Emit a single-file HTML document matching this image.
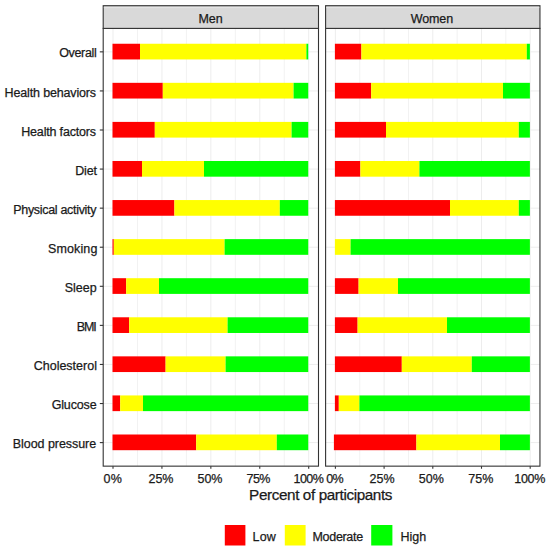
<!DOCTYPE html><html><head><meta charset="utf-8"><style>html,body{margin:0;padding:0;background:#fff;width:550px;height:550px;overflow:hidden}svg{display:block}text{font-family:"Liberation Sans",sans-serif}</style></head><body>
<svg width="550" height="550" viewBox="0 0 550 550">
<rect x="0" y="0" width="550" height="550" fill="#fff"/>
<line x1="113.00" y1="28.4" x2="113.00" y2="466.15" stroke="#EDEDED" stroke-width="1"/>
<line x1="137.46" y1="28.4" x2="137.46" y2="466.15" stroke="#F2F2F2" stroke-width="1"/>
<line x1="161.93" y1="28.4" x2="161.93" y2="466.15" stroke="#EDEDED" stroke-width="1"/>
<line x1="186.39" y1="28.4" x2="186.39" y2="466.15" stroke="#F2F2F2" stroke-width="1"/>
<line x1="210.85" y1="28.4" x2="210.85" y2="466.15" stroke="#EDEDED" stroke-width="1"/>
<line x1="235.31" y1="28.4" x2="235.31" y2="466.15" stroke="#F2F2F2" stroke-width="1"/>
<line x1="259.77" y1="28.4" x2="259.77" y2="466.15" stroke="#EDEDED" stroke-width="1"/>
<line x1="284.24" y1="28.4" x2="284.24" y2="466.15" stroke="#F2F2F2" stroke-width="1"/>
<line x1="308.70" y1="28.4" x2="308.70" y2="466.15" stroke="#EDEDED" stroke-width="1"/>
<line x1="103.2" y1="51.85" x2="318.5" y2="51.85" stroke="#EDEDED" stroke-width="1"/>
<line x1="103.2" y1="90.93" x2="318.5" y2="90.93" stroke="#EDEDED" stroke-width="1"/>
<line x1="103.2" y1="130.00" x2="318.5" y2="130.00" stroke="#EDEDED" stroke-width="1"/>
<line x1="103.2" y1="169.08" x2="318.5" y2="169.08" stroke="#EDEDED" stroke-width="1"/>
<line x1="103.2" y1="208.15" x2="318.5" y2="208.15" stroke="#EDEDED" stroke-width="1"/>
<line x1="103.2" y1="247.22" x2="318.5" y2="247.22" stroke="#EDEDED" stroke-width="1"/>
<line x1="103.2" y1="286.30" x2="318.5" y2="286.30" stroke="#EDEDED" stroke-width="1"/>
<line x1="103.2" y1="325.38" x2="318.5" y2="325.38" stroke="#EDEDED" stroke-width="1"/>
<line x1="103.2" y1="364.45" x2="318.5" y2="364.45" stroke="#EDEDED" stroke-width="1"/>
<line x1="103.2" y1="403.53" x2="318.5" y2="403.53" stroke="#EDEDED" stroke-width="1"/>
<line x1="103.2" y1="442.60" x2="318.5" y2="442.60" stroke="#EDEDED" stroke-width="1"/>
<rect x="112.50" y="43.75" width="27.50" height="15.70" fill="#FF0000"/>
<rect x="140.00" y="43.75" width="166.40" height="15.70" fill="#FFFF00"/>
<rect x="306.40" y="43.75" width="1.85" height="15.70" fill="#00FF00"/>
<rect x="112.50" y="82.83" width="50.30" height="15.70" fill="#FF0000"/>
<rect x="162.80" y="82.83" width="130.80" height="15.70" fill="#FFFF00"/>
<rect x="293.60" y="82.83" width="14.65" height="15.70" fill="#00FF00"/>
<rect x="112.50" y="121.90" width="42.30" height="15.70" fill="#FF0000"/>
<rect x="154.80" y="121.90" width="136.80" height="15.70" fill="#FFFF00"/>
<rect x="291.60" y="121.90" width="16.65" height="15.70" fill="#00FF00"/>
<rect x="112.50" y="160.98" width="29.50" height="15.70" fill="#FF0000"/>
<rect x="142.00" y="160.98" width="62.00" height="15.70" fill="#FFFF00"/>
<rect x="204.00" y="160.98" width="104.25" height="15.70" fill="#00FF00"/>
<rect x="112.50" y="200.05" width="61.90" height="15.70" fill="#FF0000"/>
<rect x="174.40" y="200.05" width="105.40" height="15.70" fill="#FFFF00"/>
<rect x="279.80" y="200.05" width="28.45" height="15.70" fill="#00FF00"/>
<rect x="112.50" y="239.12" width="1.30" height="15.70" fill="#FF0000"/>
<rect x="113.80" y="239.12" width="110.80" height="15.70" fill="#FFFF00"/>
<rect x="224.60" y="239.12" width="83.65" height="15.70" fill="#00FF00"/>
<rect x="112.50" y="278.20" width="13.70" height="15.70" fill="#FF0000"/>
<rect x="126.20" y="278.20" width="32.80" height="15.70" fill="#FFFF00"/>
<rect x="159.00" y="278.20" width="149.25" height="15.70" fill="#00FF00"/>
<rect x="112.50" y="317.28" width="16.70" height="15.70" fill="#FF0000"/>
<rect x="129.20" y="317.28" width="98.40" height="15.70" fill="#FFFF00"/>
<rect x="227.60" y="317.28" width="80.65" height="15.70" fill="#00FF00"/>
<rect x="112.50" y="356.35" width="53.10" height="15.70" fill="#FF0000"/>
<rect x="165.60" y="356.35" width="60.00" height="15.70" fill="#FFFF00"/>
<rect x="225.60" y="356.35" width="82.65" height="15.70" fill="#00FF00"/>
<rect x="112.50" y="395.43" width="7.70" height="15.70" fill="#FF0000"/>
<rect x="120.20" y="395.43" width="22.80" height="15.70" fill="#FFFF00"/>
<rect x="143.00" y="395.43" width="165.25" height="15.70" fill="#00FF00"/>
<rect x="112.50" y="434.50" width="83.70" height="15.70" fill="#FF0000"/>
<rect x="196.20" y="434.50" width="80.60" height="15.70" fill="#FFFF00"/>
<rect x="276.80" y="434.50" width="31.45" height="15.70" fill="#00FF00"/>
<rect x="103.2" y="28.4" width="215.30" height="437.75" fill="none" stroke="#333333" stroke-width="1.1"/>
<rect x="103.2" y="5.7" width="215.30" height="22.70" fill="#D9D9D9" stroke="#333333" stroke-width="1.1"/>
<line x1="103.80" y1="7.6" x2="317.90" y2="7.6" stroke="#E6E6E6" stroke-width="0.9"/>
<line x1="113.00" y1="466.15" x2="113.00" y2="468.75" stroke="#333333" stroke-width="1.1"/>
<line x1="161.93" y1="466.15" x2="161.93" y2="468.75" stroke="#333333" stroke-width="1.1"/>
<line x1="210.85" y1="466.15" x2="210.85" y2="468.75" stroke="#333333" stroke-width="1.1"/>
<line x1="259.77" y1="466.15" x2="259.77" y2="468.75" stroke="#333333" stroke-width="1.1"/>
<line x1="308.70" y1="466.15" x2="308.70" y2="468.75" stroke="#333333" stroke-width="1.1"/>
<line x1="335.40" y1="28.4" x2="335.40" y2="466.15" stroke="#EDEDED" stroke-width="1"/>
<line x1="359.75" y1="28.4" x2="359.75" y2="466.15" stroke="#F2F2F2" stroke-width="1"/>
<line x1="384.10" y1="28.4" x2="384.10" y2="466.15" stroke="#EDEDED" stroke-width="1"/>
<line x1="408.45" y1="28.4" x2="408.45" y2="466.15" stroke="#F2F2F2" stroke-width="1"/>
<line x1="432.80" y1="28.4" x2="432.80" y2="466.15" stroke="#EDEDED" stroke-width="1"/>
<line x1="457.15" y1="28.4" x2="457.15" y2="466.15" stroke="#F2F2F2" stroke-width="1"/>
<line x1="481.50" y1="28.4" x2="481.50" y2="466.15" stroke="#EDEDED" stroke-width="1"/>
<line x1="505.85" y1="28.4" x2="505.85" y2="466.15" stroke="#F2F2F2" stroke-width="1"/>
<line x1="530.20" y1="28.4" x2="530.20" y2="466.15" stroke="#EDEDED" stroke-width="1"/>
<line x1="325.6" y1="51.85" x2="539.95" y2="51.85" stroke="#EDEDED" stroke-width="1"/>
<line x1="325.6" y1="90.93" x2="539.95" y2="90.93" stroke="#EDEDED" stroke-width="1"/>
<line x1="325.6" y1="130.00" x2="539.95" y2="130.00" stroke="#EDEDED" stroke-width="1"/>
<line x1="325.6" y1="169.08" x2="539.95" y2="169.08" stroke="#EDEDED" stroke-width="1"/>
<line x1="325.6" y1="208.15" x2="539.95" y2="208.15" stroke="#EDEDED" stroke-width="1"/>
<line x1="325.6" y1="247.22" x2="539.95" y2="247.22" stroke="#EDEDED" stroke-width="1"/>
<line x1="325.6" y1="286.30" x2="539.95" y2="286.30" stroke="#EDEDED" stroke-width="1"/>
<line x1="325.6" y1="325.38" x2="539.95" y2="325.38" stroke="#EDEDED" stroke-width="1"/>
<line x1="325.6" y1="364.45" x2="539.95" y2="364.45" stroke="#EDEDED" stroke-width="1"/>
<line x1="325.6" y1="403.53" x2="539.95" y2="403.53" stroke="#EDEDED" stroke-width="1"/>
<line x1="325.6" y1="442.60" x2="539.95" y2="442.60" stroke="#EDEDED" stroke-width="1"/>
<rect x="334.90" y="43.75" width="26.50" height="15.70" fill="#FF0000"/>
<rect x="361.40" y="43.75" width="165.40" height="15.70" fill="#FFFF00"/>
<rect x="526.80" y="43.75" width="3.10" height="15.70" fill="#00FF00"/>
<rect x="334.90" y="82.83" width="36.30" height="15.70" fill="#FF0000"/>
<rect x="371.20" y="82.83" width="131.80" height="15.70" fill="#FFFF00"/>
<rect x="503.00" y="82.83" width="26.90" height="15.70" fill="#00FF00"/>
<rect x="334.90" y="121.90" width="51.10" height="15.70" fill="#FF0000"/>
<rect x="386.00" y="121.90" width="132.80" height="15.70" fill="#FFFF00"/>
<rect x="518.80" y="121.90" width="11.10" height="15.70" fill="#00FF00"/>
<rect x="334.90" y="160.98" width="25.50" height="15.70" fill="#FF0000"/>
<rect x="360.40" y="160.98" width="59.00" height="15.70" fill="#FFFF00"/>
<rect x="419.40" y="160.98" width="110.50" height="15.70" fill="#00FF00"/>
<rect x="334.90" y="200.05" width="115.10" height="15.70" fill="#FF0000"/>
<rect x="450.00" y="200.05" width="68.80" height="15.70" fill="#FFFF00"/>
<rect x="518.80" y="200.05" width="11.10" height="15.70" fill="#00FF00"/>
<rect x="334.90" y="239.12" width="15.70" height="15.70" fill="#FFFF00"/>
<rect x="350.60" y="239.12" width="179.30" height="15.70" fill="#00FF00"/>
<rect x="334.90" y="278.20" width="23.70" height="15.70" fill="#FF0000"/>
<rect x="358.60" y="278.20" width="39.40" height="15.70" fill="#FFFF00"/>
<rect x="398.00" y="278.20" width="131.90" height="15.70" fill="#00FF00"/>
<rect x="334.90" y="317.28" width="22.70" height="15.70" fill="#FF0000"/>
<rect x="357.60" y="317.28" width="89.40" height="15.70" fill="#FFFF00"/>
<rect x="447.00" y="317.28" width="82.90" height="15.70" fill="#00FF00"/>
<rect x="334.90" y="356.35" width="66.90" height="15.70" fill="#FF0000"/>
<rect x="401.80" y="356.35" width="70.00" height="15.70" fill="#FFFF00"/>
<rect x="471.80" y="356.35" width="58.10" height="15.70" fill="#00FF00"/>
<rect x="334.90" y="395.43" width="3.90" height="15.70" fill="#FF0000"/>
<rect x="338.80" y="395.43" width="20.60" height="15.70" fill="#FFFF00"/>
<rect x="359.40" y="395.43" width="170.50" height="15.70" fill="#00FF00"/>
<rect x="333.90" y="434.50" width="82.50" height="15.70" fill="#FF0000"/>
<rect x="416.40" y="434.50" width="83.60" height="15.70" fill="#FFFF00"/>
<rect x="500.00" y="434.50" width="29.90" height="15.70" fill="#00FF00"/>
<rect x="325.6" y="28.4" width="214.35" height="437.75" fill="none" stroke="#333333" stroke-width="1.1"/>
<rect x="325.6" y="5.7" width="214.35" height="22.70" fill="#D9D9D9" stroke="#333333" stroke-width="1.1"/>
<line x1="326.20" y1="7.6" x2="539.35" y2="7.6" stroke="#E6E6E6" stroke-width="0.9"/>
<line x1="335.40" y1="466.15" x2="335.40" y2="468.75" stroke="#333333" stroke-width="1.1"/>
<line x1="384.10" y1="466.15" x2="384.10" y2="468.75" stroke="#333333" stroke-width="1.1"/>
<line x1="432.80" y1="466.15" x2="432.80" y2="468.75" stroke="#333333" stroke-width="1.1"/>
<line x1="481.50" y1="466.15" x2="481.50" y2="468.75" stroke="#333333" stroke-width="1.1"/>
<line x1="530.20" y1="466.15" x2="530.20" y2="468.75" stroke="#333333" stroke-width="1.1"/>
<line x1="99.80" y1="51.85" x2="103.2" y2="51.85" stroke="#333333" stroke-width="1.1"/>
<line x1="99.80" y1="90.93" x2="103.2" y2="90.93" stroke="#333333" stroke-width="1.1"/>
<line x1="99.80" y1="130.00" x2="103.2" y2="130.00" stroke="#333333" stroke-width="1.1"/>
<line x1="99.80" y1="169.08" x2="103.2" y2="169.08" stroke="#333333" stroke-width="1.1"/>
<line x1="99.80" y1="208.15" x2="103.2" y2="208.15" stroke="#333333" stroke-width="1.1"/>
<line x1="99.80" y1="247.22" x2="103.2" y2="247.22" stroke="#333333" stroke-width="1.1"/>
<line x1="99.80" y1="286.30" x2="103.2" y2="286.30" stroke="#333333" stroke-width="1.1"/>
<line x1="99.80" y1="325.38" x2="103.2" y2="325.38" stroke="#333333" stroke-width="1.1"/>
<line x1="99.80" y1="364.45" x2="103.2" y2="364.45" stroke="#333333" stroke-width="1.1"/>
<line x1="99.80" y1="403.53" x2="103.2" y2="403.53" stroke="#333333" stroke-width="1.1"/>
<line x1="99.80" y1="442.60" x2="103.2" y2="442.60" stroke="#333333" stroke-width="1.1"/>
<rect x="224.8" y="525" width="20.6" height="20.5" fill="#FF0000"/>
<rect x="284.8" y="525" width="20.8" height="20.5" fill="#FFFF00"/>
<rect x="371.2" y="525" width="21.2" height="20.5" fill="#00FF00"/>
<text x="59.23" y="57.00" font-size="12.50" textLength="37.45" fill="#1a1a1a" stroke="#1a1a1a" stroke-width="0.25">Overall</text>
<text x="4.59" y="97.00" font-size="12.50" textLength="91.53" fill="#1a1a1a" stroke="#1a1a1a" stroke-width="0.25">Health behaviors</text>
<text x="21.26" y="136.00" font-size="12.50" textLength="74.77" fill="#1a1a1a" stroke="#1a1a1a" stroke-width="0.25">Health factors</text>
<text x="75.19" y="175.00" font-size="12.50" textLength="21.91" fill="#1a1a1a" stroke="#1a1a1a" stroke-width="0.25">Diet</text>
<text x="13.26" y="214.00" font-size="12.50" textLength="83.24" fill="#1a1a1a" stroke="#1a1a1a" stroke-width="0.25">Physical activity</text>
<text x="48.08" y="253.00" font-size="12.50" textLength="49.27" fill="#1a1a1a" stroke="#1a1a1a" stroke-width="0.25">Smoking</text>
<text x="64.72" y="292.00" font-size="12.50" textLength="31.98" fill="#1a1a1a" stroke="#1a1a1a" stroke-width="0.25">Sleep</text>
<text x="76.72" y="331.00" font-size="12.50" textLength="20.09" fill="#1a1a1a" stroke="#1a1a1a" stroke-width="0.25">BMI</text>
<text x="33.74" y="370.00" font-size="12.50" textLength="63.18" fill="#1a1a1a" stroke="#1a1a1a" stroke-width="0.25">Cholesterol</text>
<text x="51.63" y="409.00" font-size="12.50" textLength="45.04" fill="#1a1a1a" stroke="#1a1a1a" stroke-width="0.25">Glucose</text>
<text x="12.84" y="448.00" font-size="12.50" textLength="83.28" fill="#1a1a1a" stroke="#1a1a1a" stroke-width="0.25">Blood pressure</text>
<text x="103.41" y="482.80" font-size="12.50" textLength="18.47" fill="#1a1a1a" stroke="#1a1a1a" stroke-width="0.25">0%</text>
<text x="148.60" y="482.80" font-size="12.50" textLength="24.83" fill="#1a1a1a" stroke="#1a1a1a" stroke-width="0.25">25%</text>
<text x="197.48" y="482.80" font-size="12.50" textLength="24.95" fill="#1a1a1a" stroke="#1a1a1a" stroke-width="0.25">50%</text>
<text x="246.60" y="482.80" font-size="12.50" textLength="23.83" fill="#1a1a1a" stroke="#1a1a1a" stroke-width="0.25">75%</text>
<text x="293.50" y="482.80" font-size="12.50" textLength="30.27" fill="#1a1a1a" stroke="#1a1a1a" stroke-width="0.25">100%</text>
<text x="326.33" y="482.80" font-size="12.50" textLength="17.31" fill="#1a1a1a" stroke="#1a1a1a" stroke-width="0.25">0%</text>
<text x="369.60" y="482.80" font-size="12.50" textLength="24.91" fill="#1a1a1a" stroke="#1a1a1a" stroke-width="0.25">25%</text>
<text x="418.82" y="482.80" font-size="12.50" textLength="24.93" fill="#1a1a1a" stroke="#1a1a1a" stroke-width="0.25">50%</text>
<text x="468.33" y="482.80" font-size="12.50" textLength="25.02" fill="#1a1a1a" stroke="#1a1a1a" stroke-width="0.25">75%</text>
<text x="514.22" y="482.80" font-size="12.50" textLength="31.12" fill="#1a1a1a" stroke="#1a1a1a" stroke-width="0.25">100%</text>
<text x="198.52" y="23.10" font-size="12.50" textLength="24.11" fill="#1a1a1a" stroke="#1a1a1a" stroke-width="0.25">Men</text>
<text x="410.64" y="23.10" font-size="12.50" textLength="42.54" fill="#1a1a1a" stroke="#1a1a1a" stroke-width="0.25">Women</text>
<text x="249.10" y="500.40" font-size="15.28" textLength="143.33" fill="#1a1a1a" stroke="#1a1a1a" stroke-width="0.25">Percent of participants</text>
<text x="252.59" y="540.60" font-size="12.50" textLength="23.13" fill="#1a1a1a" stroke="#1a1a1a" stroke-width="0.25">Low</text>
<text x="312.52" y="540.60" font-size="12.50" textLength="50.60" fill="#1a1a1a" stroke="#1a1a1a" stroke-width="0.25">Moderate</text>
<text x="400.59" y="540.60" font-size="12.50" textLength="25.51" fill="#1a1a1a" stroke="#1a1a1a" stroke-width="0.25">High</text>
</svg></body></html>
